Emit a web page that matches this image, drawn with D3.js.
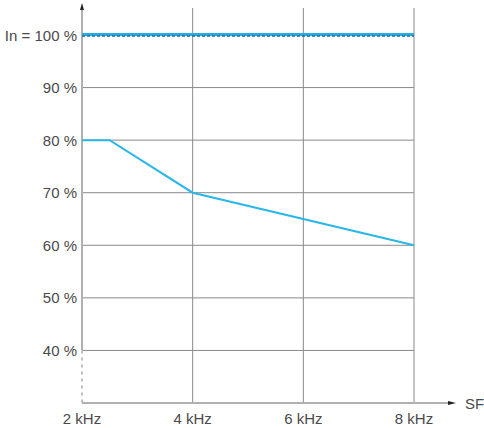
<!DOCTYPE html>
<html><head><meta charset="utf-8">
<script src="https://cdn.jsdelivr.net/npm/d3@7"></script>
<style>body{margin:0;background:#fff;} text{font-family:"Liberation Sans",Arial,sans-serif;fill:#4a4a4a;}</style>
</head><body>
<svg id="c" width="484" height="428"></svg>
<script>
const xTicks = [2, 4, 6, 8];
const xTickLabels = ["2 kHz", "4 kHz", "6 kHz", "8 kHz"];
const yTicks = [40, 50, 60, 70, 80, 90, 100];
const yTickLabels = ["40 %", "50 %", "60 %", "70 %", "80 %", "90 %", "In = 100 %"];
const curveFreq = [2, 2.5, 4, 8];
const curveCurrent = [80, 80, 70, 60];
const nominalFreq = [2, 8];
const nominalCurrent = [100, 100];

const svg = d3.select("#c");
const x = d3.scaleLinear().domain([2, 8]).range([82, 414]);
const y = d3.scaleLinear().domain([30, 100]).range([403, 35]);

// vertical grid
svg.append("g").selectAll("line").data(xTicks.slice(1)).join("line")
  .attr("x1", d => x(d)).attr("x2", d => x(d)).attr("y1", 8).attr("y2", y(30))
  .attr("stroke", "#8a8a8a").attr("stroke-width", 1);
// horizontal grid
svg.append("g").selectAll("line").data(yTicks.slice(0, -1)).join("line")
  .attr("x1", x(2)).attr("x2", x(8)).attr("y1", d => y(d)).attr("y2", d => y(d))
  .attr("stroke", "#8a8a8a").attr("stroke-width", 1);

// y axis
svg.append("line").attr("x1", x(2)).attr("x2", x(2)).attr("y1", 9).attr("y2", y(40))
  .attr("stroke", "#b0b0b0").attr("stroke-width", 2);
svg.append("line").attr("x1", x(2)).attr("x2", x(2)).attr("y1", y(40)).attr("y2", y(30))
  .attr("stroke", "#c0c0c0").attr("stroke-width", 2).attr("stroke-dasharray", "3,4");
svg.append("path").attr("d", `M${x(2)-2},10 L${x(2)},3 L${x(2)+2},10 Z`).attr("fill", "#222");
// x axis
svg.append("line").attr("x1", x(2)).attr("x2", 450).attr("y1", y(30)).attr("y2", y(30))
  .attr("stroke", "#b0b0b0").attr("stroke-width", 2);
svg.append("path").attr("d", `M448,${y(30)-2} L456,${y(30)} L448,${y(30)+2} Z`).attr("fill", "#222");
svg.append("text").attr("x", 465).attr("y", y(30) + 5.5).attr("font-size", 15).text("SF");

// y labels
svg.append("g").selectAll("text").data(yTicks).join("text")
  .attr("x", 77).attr("y", d => y(d) + 5.5).attr("text-anchor", "end").attr("font-size", 15)
  .text((d, i) => yTickLabels[i]);
// x labels
svg.append("g").selectAll("text").data(xTicks).join("text")
  .attr("x", d => x(d)).attr("y", 424).attr("text-anchor", "middle").attr("font-size", 15)
  .text((d, i) => xTickLabels[i]);

const line = d3.line().x(d => x(d[0])).y(d => y(d[1]));
// nominal line
const nom = nominalFreq.map((f, i) => [f, nominalCurrent[i]]);
svg.append("path").attr("d", line(nom)).attr("transform", "translate(0,-0.5)")
  .attr("fill", "none").attr("stroke", "#29abe2").attr("stroke-width", 3);
svg.append("path").attr("d", line(nom)).attr("transform", "translate(0,1)")
  .attr("fill", "none").attr("stroke", "#1a6fa8").attr("stroke-width", 1.5).attr("stroke-dasharray", "3,2");
// derating curve
svg.append("path").attr("d", line(curveFreq.map((f, i) => [f, curveCurrent[i]])))
  .attr("fill", "none").attr("stroke", "#29b6e8").attr("stroke-width", 2);
</script>
</body></html>
